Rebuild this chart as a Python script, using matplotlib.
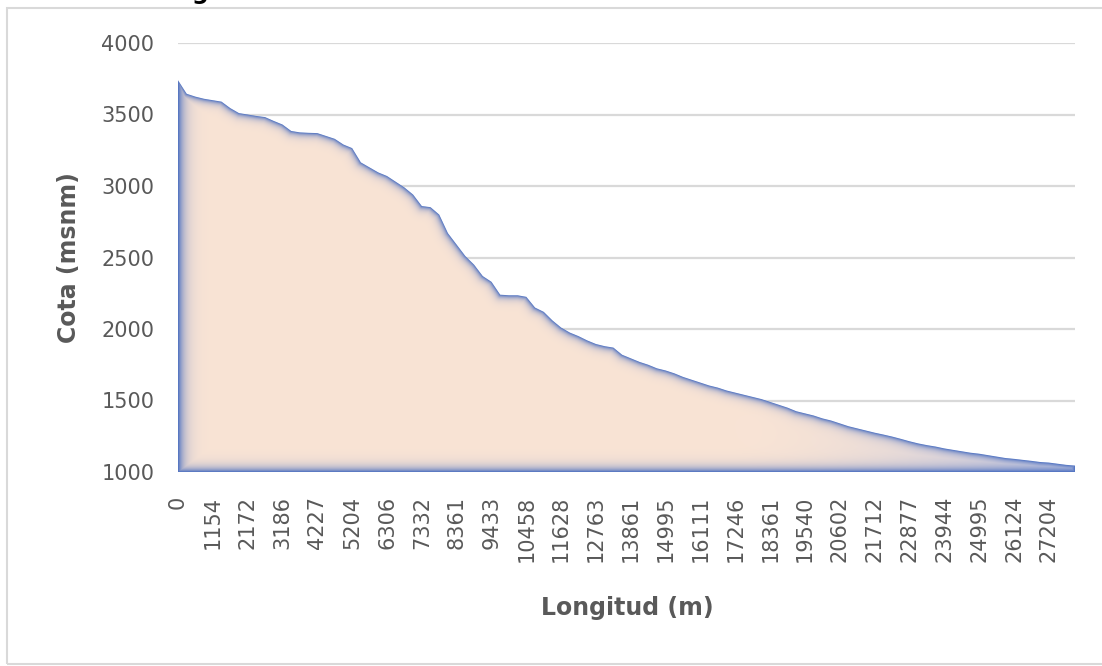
#!/usr/bin/env python3
# Perfil longitudinal del cauce: cota vs longitud, area con relleno degradado

import numpy as np
import matplotlib
matplotlib.use("Agg")
import matplotlib.pyplot as plt
from matplotlib.patches import Polygon, Rectangle

# -------------------- datos --------------------
# etiquetas del eje de categorias (longitud en m), una cada 4 muestras
longitud_etiquetas = [0, 1154, 2172, 3186, 4227, 5204, 6306, 7332, 8361, 9433,
                      10458, 11628, 12763, 13861, 14995, 16111, 17246, 18361,
                      19540, 20602, 21712, 22877, 23944, 24995, 26124, 27204]
PASO_ETIQUETA = 4

# cota (msnm) de cada muestra del perfil
cota = [3740, 3645, 3625, 3610, 3600, 3590, 3545, 3510,
        3500, 3490, 3482, 3455, 3430, 3385, 3375, 3372,
        3370, 3350, 3330, 3290, 3265, 3165, 3130, 3095,
        3070, 3030, 2990, 2940, 2860, 2852, 2800, 2670,
        2590, 2510, 2450, 2370, 2330, 2240, 2236, 2236,
        2225, 2150, 2120, 2060, 2010, 1975, 1950, 1920,
        1895, 1880, 1870, 1820, 1795, 1770, 1750, 1725,
        1710, 1690, 1665, 1645, 1625, 1605, 1590, 1570,
        1555, 1540, 1525, 1510, 1490, 1470, 1450, 1425,
        1410, 1395, 1375, 1360, 1340, 1320, 1305, 1290,
        1275, 1262, 1248, 1232, 1215, 1200, 1188, 1178,
        1165, 1155, 1145, 1135, 1128, 1118, 1108, 1098,
        1092, 1085, 1078, 1070, 1066, 1058, 1050, 1045]

Y_MIN, Y_MAX = 1000, 4000
Y_TICKS = [1000, 1500, 2000, 2500, 3000, 3500, 4000]

AZUL = np.array([74, 110, 192]) / 255.0
MELOCOTON = np.array([249, 228, 213]) / 255.0
LAVANDA = np.array([196, 200, 224]) / 255.0
GRIS_TXT = "#595959"
GRIS_GRID = "#D9D9D9"
# ------------------------------------------------

W, H, DPI = 1102, 666, 100
fig = plt.figure(figsize=(W / DPI, H / DPI), dpi=DPI)
ax_l, ax_r, ax_t, ax_b = 178, 1075, 43, 472
ax = fig.add_axes([ax_l / W, 1 - ax_b / H, (ax_r - ax_l) / W, (ax_b - ax_t) / H])

x = np.arange(len(cota))
y = np.array(cota, dtype=float)
x_max = x[-1]

ax.set_xlim(0, x_max)
ax.set_ylim(Y_MIN, Y_MAX)

# ---- relleno degradado: azul en el contorno, melocoton hacia dentro ----
nx, ny = ax_r - ax_l, ax_b - ax_t
sx = nx / x_max
sy = ny / (Y_MAX - Y_MIN)
px = np.concatenate([[0], x, [x_max]]) * sx
py = (np.concatenate([[Y_MIN], y, [Y_MIN]]) - Y_MIN) * sy
px = np.append(px, px[0])
py = np.append(py, py[0])

gx, gy = np.meshgrid(np.arange(nx) + 0.5, np.arange(ny) + 0.5)
d_borde = np.full(gx.shape, np.inf)   # contorno superior (perfil)
d_base = np.full(gx.shape, np.inf)    # lados inferior y derecho
d_izq = np.full(gx.shape, np.inf)     # lado izquierdo
n_seg = len(px) - 1
for i in range(n_seg):
    x0, y0, x1, y1 = px[i], py[i], px[i + 1], py[i + 1]
    dx, dy = x1 - x0, y1 - y0
    L2 = dx * dx + dy * dy
    if L2 == 0:
        continue
    t = np.clip(((gx - x0) * dx + (gy - y0) * dy) / L2, 0, 1)
    d = np.hypot(gx - (x0 + t * dx), gy - (y0 + t * dy))
    if i == 0:
        d_izq = np.minimum(d_izq, d)
    elif i <= n_seg - 3:
        d_borde = np.minimum(d_borde, d)
    else:
        d_base = np.minimum(d_base, d)

f = np.minimum.reduce([1 - np.exp(-d_borde / 3.2),
                       1 - np.exp(-d_base / 4.5),
                       1 - np.exp(-d_izq / 6.0)])
# hacia el extremo derecho el interior se vuelve gris azulado
r = np.clip((gx / nx - 0.62) / 0.38, 0, 1) ** 1.6
interior = MELOCOTON[None, None, :] * (1 - r[..., None]) + LAVANDA[None, None, :] * r[..., None]
rgb = AZUL[None, None, :] * (1 - f[..., None]) + interior * f[..., None]

im = ax.imshow(rgb, extent=(0, x_max, Y_MIN, Y_MAX), origin="lower",
               aspect="auto", interpolation="bilinear", zorder=2)
area = Polygon(np.column_stack([np.concatenate([[0], x, [x_max]]),
                                np.concatenate([[Y_MIN], y, [Y_MIN]])]),
               closed=True, facecolor="none", edgecolor="none",
               transform=ax.transData)
ax.add_patch(area)
im.set_clip_path(area)

# ---- ejes ----
ax.set_yticks(Y_TICKS)
ax.yaxis.grid(True, color=GRIS_GRID, lw=1.6)
ax.set_axisbelow(True)
ax.set_xticks(x[::PASO_ETIQUETA])
ax.set_xticklabels([str(v) for v in longitud_etiquetas], rotation=90,
                   fontsize=15, color=GRIS_TXT, va="top", ha="center")
ax.tick_params(axis="both", length=0, labelsize=15, labelcolor=GRIS_TXT)
ax.tick_params(axis="x", pad=17)
ax.tick_params(axis="y", pad=17)
for s in ax.spines.values():
    s.set_visible(False)

fig.text(69 / W, 1 - 258 / H, "Cota (msnm)", rotation=90, ha="center", va="center",
         fontsize=17, fontweight="bold", color=GRIS_TXT)
fig.text(627 / W, 1 - 608 / H, "Longitud (m)", ha="center", va="center",
         fontsize=17, fontweight="bold", color=GRIS_TXT)

# titulo del grafico (queda recortado por el borde superior)
fig.text(200 / W, 1 + 1.0 / H, "g", ha="center", va="baseline",
         fontsize=17, fontweight="bold", color="black")

# marco del area del grafico
fig.patches.append(Rectangle((7 / W, 2 / H), 1.2, 1 - 10 / H,
                             transform=fig.transFigure, fill=False,
                             edgecolor=GRIS_GRID, lw=1.5))

fig.savefig("out.png", dpi=DPI)
